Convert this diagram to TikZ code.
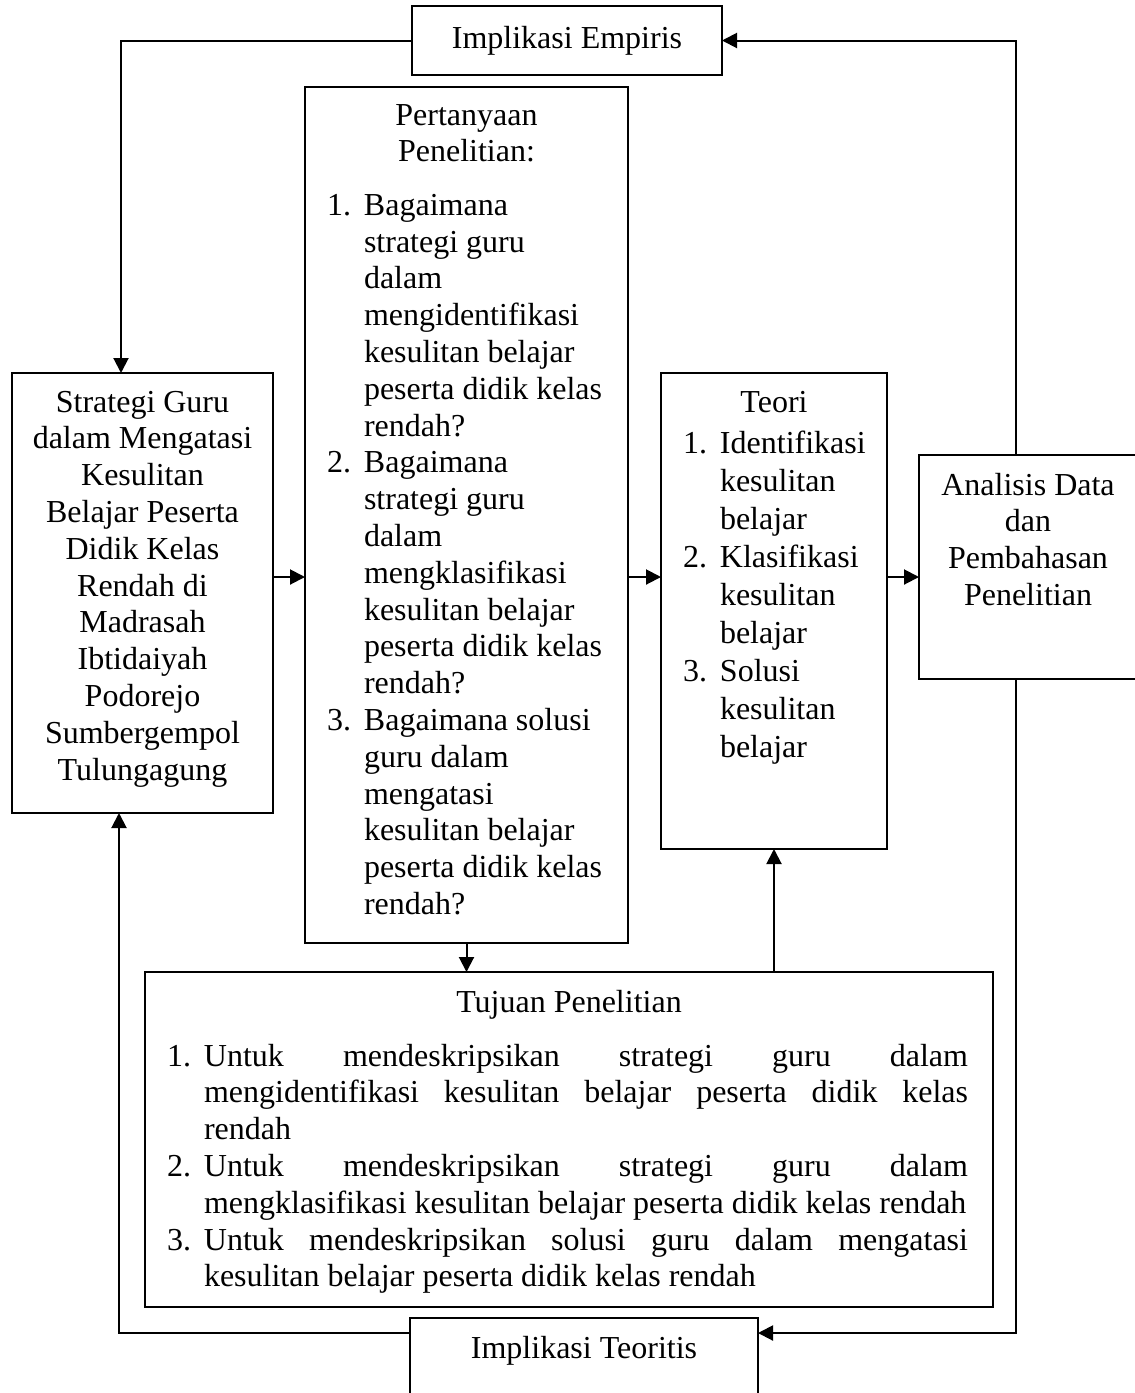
\documentclass[tikz,border=0pt]{standalone}
\usepackage{fontspec}
\setmainfont{Liberation Serif}
\usetikzlibrary{arrows.meta}
\newcommand{\firstline}[1]{\rule{0pt}{#1pt}}
\newcommand{\itm}[2]{\par\hangindent=37pt\hangafter=1\noindent\makebox[37pt][l]{#1}#2\par}
\newcommand{\nohy}{\hyphenpenalty=10000 \exhyphenpenalty=10000 \tolerance=10000 \parindent=0pt }
\tikzset{
  box/.style={draw, line width=2pt, inner sep=0pt, outer sep=0pt, anchor=north west,
    font=\fontsize{32}{36.8}\selectfont},
  conn/.style={line width=2pt},
  arr/.style={conn, -{Triangle[length=15pt,width=15pt]}}
}
\begin{document}
\begin{tikzpicture}[x=1pt,y=-1pt]
\path[use as bounding box] (0,0) rectangle (1135,1393);
\clip (0,0) rectangle (1135,1393);

\node[box] (emp) at (412,6) {\parbox[c][69pt][t]{310pt}{\nohy\centering\firstline{42.3}Implikasi Empiris}};

\node[box] (strat) at (12,373) {\parbox[c][440pt][t]{261pt}{\nohy\centering\firstline{39}Strategi Guru\\dalam Mengatasi\\Kesulitan\\Belajar Peserta\\Didik Kelas\\Rendah di\\Madrasah\\Ibtidaiyah\\Podorejo\\Sumbergempol\\Tulungagung}};

\node[box] (quest) at (305,87) {\parbox[c][856pt][t]{323pt}{\nohy\centering\firstline{38}Pertanyaan\\Penelitian:\par\vspace{16.6pt}%
\raggedright\leftskip=22pt
\itm{1.}{Bagaimana\newline strategi guru\newline dalam\newline mengidentifikasi\newline kesulitan belajar\newline peserta didik kelas\newline rendah?}
\itm{2.}{Bagaimana\newline strategi guru\newline dalam\newline mengklasifikasi\newline kesulitan belajar\newline peserta didik kelas\newline rendah?}
\itm{3.}{Bagaimana solusi\newline guru dalam\newline mengatasi\newline kesulitan belajar\newline peserta didik kelas\newline rendah?}}};

\node[box] (teori) at (661,373) {\parbox[c][476pt][t]{226pt}{\fontsize{32}{38}\selectfont\nohy\centering\firstline{39}Teori\par\vspace{3pt}%
\raggedright\leftskip=22pt
\itm{1.}{Identifikasi\newline kesulitan\newline belajar}
\itm{2.}{Klasifikasi\newline kesulitan\newline belajar}
\itm{3.}{Solusi\newline kesulitan\newline belajar}}};

\node[box] (anal) at (919,455) {\parbox[c][224pt][t]{218pt}{\nohy\centering\firstline{40}Analisis Data\\dan\\Pembahasan\\Penelitian}};

\node[box] (tuj) at (145,972) {\parbox[c][335pt][t]{848pt}{\nohy\centering\firstline{40}Tujuan Penelitian\par\vspace{17.3pt}%
\leftskip=22pt \rightskip=25pt \parfillskip=0pt plus 1fil
\itm{1.}{Untuk mendeskripsikan strategi guru dalam\linebreak mengidentifikasi kesulitan belajar peserta didik kelas\linebreak rendah}
\itm{2.}{Untuk mendeskripsikan strategi guru dalam\linebreak mengklasifikasi kesulitan belajar peserta didik kelas rendah}
\itm{3.}{Untuk mendeskripsikan solusi guru dalam mengatasi\linebreak kesulitan belajar peserta didik kelas rendah}}};

\node[box] (teo) at (410,1318) {\parbox[c][82pt][t]{348pt}{\nohy\centering\firstline{40.3}Implikasi Teoritis}};

\coordinate (tl) at (121,40.5);
\coordinate (tr) at (1016,40.5);
\coordinate (br) at (1016,1333);
\coordinate (bl) at (119,1333);
\coordinate (mid) at (0,577);

\draw[arr] (emp.west) -- (tl) -- (tl |- strat.north);
\draw[arr] (tr |- anal.north) -- (tr) -- (emp.east);
\draw[arr] (strat.east |- mid) -- (quest.west |- mid);
\draw[arr] (quest.east |- mid) -- (teori.west |- mid);
\draw[arr] (teori.east |- mid) -- (anal.west |- mid);
\draw[arr] (quest.south) -- (quest.south |- tuj.north);
\draw[arr] (teori.south |- tuj.north) -- (teori.south);
\draw[arr] (tr |- anal.south) -- (br) -- (br -| teo.east);
\draw[arr] (bl -| teo.west) -- (bl) -- (bl |- strat.south);
\end{tikzpicture}
\end{document}
